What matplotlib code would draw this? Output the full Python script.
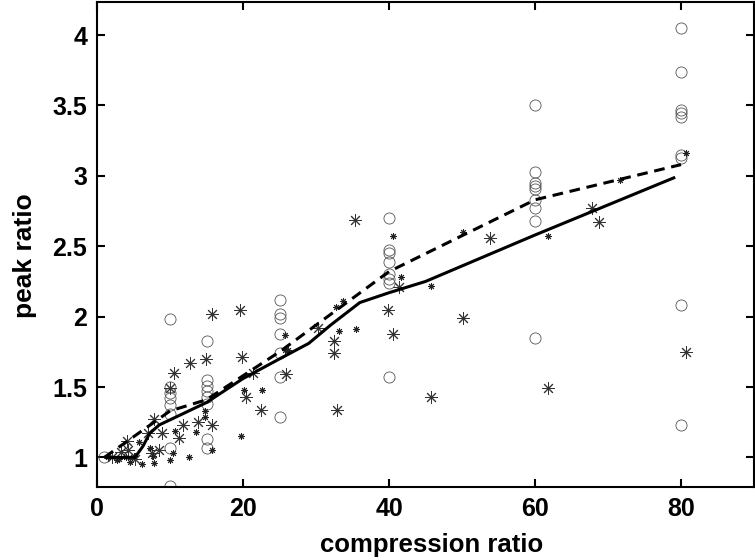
import matplotlib
matplotlib.use("Agg")
import matplotlib.pyplot as plt

plt.rcParams['font.family'] = ['Liberation Sans', 'DejaVu Sans']

# open circles: compression ratio -> measured peak ratios
circle_x = [1,
            10, 10, 10, 10, 10, 10, 10, 10,
            15, 15, 15, 15, 15, 15, 15, 15,
            25, 25, 25, 25, 25, 25, 25,
            40, 40, 40, 40, 40, 40, 40, 40,
            60, 60, 60, 60, 60, 60, 60, 60, 60,
            80, 80, 80, 80, 80, 80, 80, 80, 80]
circle_y = [1.00,
            1.98, 1.50, 1.46, 1.42, 1.37, 1.31, 1.07, 0.80,
            1.83, 1.55, 1.51, 1.47, 1.43, 1.38, 1.13, 1.07,
            2.12, 2.02, 1.99, 1.88, 1.74, 1.57, 1.29,
            2.70, 2.47, 2.45, 2.39, 2.30, 2.27, 2.24, 1.57,
            3.50, 3.03, 2.95, 2.93, 2.91, 2.83, 2.77, 2.68, 1.85,
            4.05, 3.74, 3.47, 3.45, 3.42, 3.15, 3.13, 2.08, 1.23]

# large asterisks
big_x = [2.0, 3.3, 4.1, 4.3, 5.2, 7.0, 7.5, 7.8, 8.5, 8.9, 10.0, 10.5, 11.2,
         11.8, 12.7, 13.8, 14.9, 15.7, 15.8, 19.6, 19.9, 20.4, 21.4, 22.4,
         25.9, 30.3, 32.4, 32.5, 32.9, 35.3, 39.8, 40.5, 41.3, 45.8, 50.1,
         53.8, 61.8, 67.8, 68.8, 80.7]
big_y = [1.00, 1.04, 1.12, 1.05, 0.99, 1.17, 1.03, 1.27, 1.05, 1.17, 1.49, 1.60, 1.14,
         1.23, 1.67, 1.25, 1.70, 1.23, 2.02, 2.05, 1.71, 1.43, 1.60, 1.34,
         1.59, 1.92, 1.83, 1.74, 1.34, 2.69, 2.05, 1.88, 2.21, 1.43, 1.99,
         2.56, 1.49, 2.77, 2.67, 1.75]

# small asterisks
small_x = [1.5, 2.7, 3.0, 4.0, 4.5, 5.0, 5.7, 6.1, 7.3, 7.7, 7.8, 10.0, 10.4,
           10.7, 12.6, 13.6, 14.8, 14.8, 15.7, 19.7, 20.1, 22.6, 25.7, 25.7,
           26.2, 32.8, 33.1, 33.7, 35.5, 40.5, 41.7, 45.8, 50.1, 61.8, 71.6, 80.7]
small_y = [1.00, 0.98, 0.99, 1.00, 0.97, 1.01, 1.11, 0.955, 1.07, 1.01, 0.96, 0.98, 1.03,
           1.19, 1.00, 1.18, 1.29, 1.33, 1.05, 1.15, 1.48, 1.48, 1.87, 1.76,
           1.76, 2.07, 1.90, 2.11, 1.91, 2.57, 2.28, 2.22, 2.60, 2.57, 2.97, 3.16]

# fitted curve (solid) and mean curve (dashed)
fit_x = [1, 5.2, 6.3, 7.2, 8.5, 15, 20, 25, 29, 32, 36, 40, 45, 50, 60, 79.2]
fit_y = [1.00, 1.00, 1.08, 1.17, 1.23, 1.39, 1.56, 1.70, 1.81, 1.94, 2.10, 2.17,
         2.25, 2.36, 2.58, 2.99]
mean_x = [1, 10, 15, 25, 40, 60, 80]
mean_y = [1.00, 1.33, 1.41, 1.75, 2.32, 2.83, 3.08]

fig = plt.figure(figsize=(7.55, 5.6), dpi=100)
ax = fig.add_axes([0.1285, 0.1304, 0.8702, 0.866])

ax.plot(circle_x, circle_y, linestyle='none', marker='o', markersize=8,
        markerfacecolor='none', markeredgecolor='#555555', markeredgewidth=0.6)
ax.plot(big_x, big_y, linestyle='none', marker=(8, 2, 0), markersize=9,
        color='#333333', markeredgewidth=0.7)
ax.plot(small_x, small_y, linestyle='none', marker=(8, 2, 0), markersize=4.8,
        color='#222222', markeredgewidth=0.7)
ax.plot(fit_x, fit_y, color='black', linewidth=2.2, solid_capstyle='butt')
ax.plot(mean_x, mean_y, color='black', linewidth=2.2, dashes=(3.5, 2.2))

ax.set_xlim(0, 90)
ax.set_ylim(0.79, 4.235)
ax.set_xticks([0, 20, 40, 60, 80])
ax.set_yticks([1, 1.5, 2, 2.5, 3, 3.5, 4])
ax.set_yticklabels(['1', '1.5', '2', '2.5', '3', '3.5', '4'])
ax.tick_params(direction='in', length=6, width=1.5, top=True, right=True,
               labelsize=18, pad=7)
for lab in ax.get_xticklabels() + ax.get_yticklabels():
    lab.set_fontweight('bold')
for sp in ax.spines.values():
    sp.set_linewidth(1.5)

ax.set_xlabel('compression ratio', fontsize=18.5, fontweight='bold')
ax.set_ylabel('peak ratio', fontsize=19, fontweight='bold')
ax.xaxis.set_label_coords(0.51, -0.094)
ax.yaxis.set_label_coords(-0.092, 0.478)

fig.savefig('out.png', dpi=100)
